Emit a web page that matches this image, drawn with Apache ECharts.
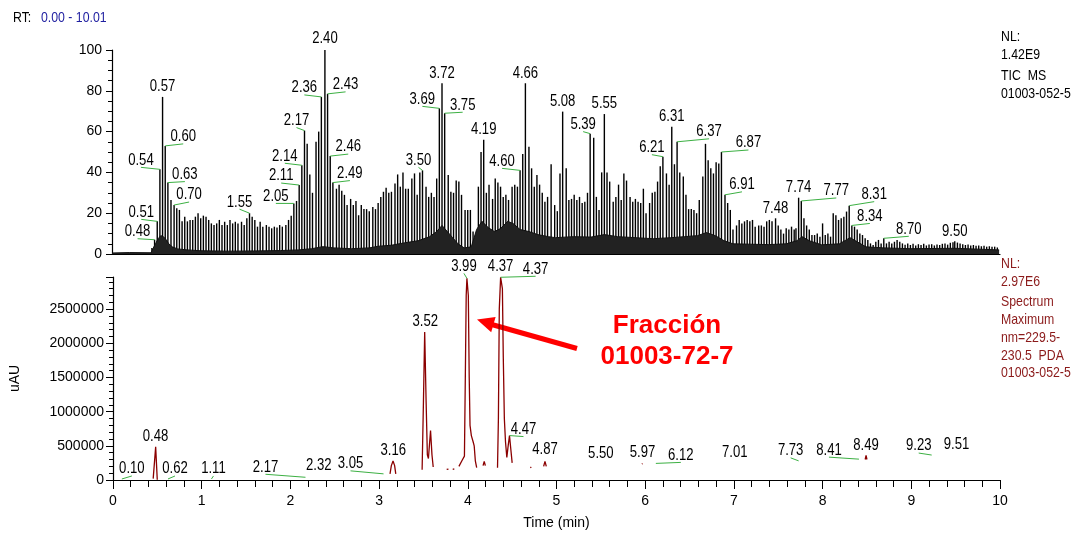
<!DOCTYPE html>
<html>
<head>
<meta charset="utf-8">
<script src="https://cdn.jsdelivr.net/npm/echarts@6/dist/echarts.min.js"></script>
<style>
  html, body { margin: 0; padding: 0; background: #fff; }
  #chart { width: 1075px; height: 535px; }
</style>
</head>
<body>
<div id="chart"></div>
<script>
// TIC MS trace: one [time (min), relative abundance %] pair per scan
const ticScans = [
  [0.45,3],[0.48,7],[0.51,16],[0.54,41.5],[0.57,77],[0.60,53],[0.63,35],[0.665,26.5],[0.70,24],
  [0.73,22.4],[0.76,21.6],[0.79,16],[0.82,18.3],[0.85,16],[0.88,16.7],[0.91,16.7],[0.94,18.3],[0.97,20],
  [1.00,17.5],[1.03,18.8],[1.06,18.3],[1.09,16.7],[1.12,15],[1.15,14.2],[1.18,15],[1.21,16.7],[1.24,14.2],
  [1.27,15.8],[1.30,14.2],[1.33,16.7],[1.36,15],[1.39,15.8],[1.42,15],[1.46,15.8],[1.49,14.2],[1.52,17.5],
  [1.55,20],[1.58,18.3],[1.61,16.7],[1.64,13.4],[1.67,15.8],[1.70,13.4],[1.74,14.2],[1.77,13.4],[1.80,12.6],
  [1.83,13.4],[1.86,13],[1.89,14.2],[1.92,13.4],[1.96,14.2],[1.99,16.7],[2.02,18.8],[2.05,24.8],
  [2.08,26],[2.11,33.8],[2.14,43.5],[2.17,60.5],[2.20,54],[2.23,39],[2.26,30],[2.30,55],[2.33,60],
  [2.36,77],[2.40,100],[2.43,78.5],[2.46,48],[2.49,35],
  [2.53,32],[2.56,34],[2.59,31],[2.62,29],[2.65,24],[2.69,27],[2.72,24],[2.75,26],[2.78,19],[2.81,24],
  [2.84,22],[2.87,22],[2.90,21],[2.94,23],[2.97,22],[3.00,25],[3.03,28],[3.06,30.5],[3.09,32.5],[3.12,30],
  [3.15,30.5],[3.19,34.6],[3.22,39],[3.25,33],[3.28,40],[3.31,32],[3.34,32],[3.38,37],[3.41,39.5],[3.44,29],
  [3.47,40],[3.50,41],[3.54,33],[3.57,28],[3.60,30],[3.63,28],[3.66,37],[3.69,71.4],[3.72,83.7],[3.75,69],
  [3.79,38.7],[3.82,30.5],[3.85,30],[3.88,36],[3.91,35.5],[3.94,29],[3.98,21.6],[4.01,21.6],[4.04,21.6],
  [4.07,11],[4.10,4],[4.13,33],[4.16,50],[4.19,56],[4.22,30],[4.25,34],[4.29,27],[4.32,37],[4.35,35],
  [4.38,33],[4.41,28],[4.44,29],[4.47,26.5],[4.51,33],[4.54,34],[4.57,33],[4.60,41],[4.63,49],[4.66,83.7],
  [4.70,52.6],[4.73,42],[4.76,33],[4.79,38.7],[4.82,34],[4.85,30],[4.88,25.6],[4.91,28],[4.95,44],
  [4.99,24],[5.02,21],[5.05,39.5],[5.08,69.8],[5.12,42],[5.15,26.5],[5.18,27],[5.21,29],[5.24,26.5],
  [5.27,28],[5.30,25],[5.33,25.6],[5.36,30],[5.39,59],[5.43,57],[5.46,28],[5.49,21.6],[5.52,40],[5.55,68.6],
  [5.58,40],[5.61,35.5],[5.65,25.6],[5.68,28],[5.71,34],[5.74,26.5],[5.77,39.5],[5.80,36],[5.84,28],
  [5.87,25.6],[5.90,27],[5.93,25.6],[5.96,25],[5.99,32],[6.02,20],[6.06,25],[6.09,30],[6.12,30.5],
  [6.15,35.5],[6.18,43],[6.21,47.7],[6.25,39.5],[6.28,34],[6.31,62.4],[6.34,44],[6.37,55],[6.40,40],
  [6.44,38],[6.47,29],[6.50,22],[6.53,22],[6.56,21.6],[6.59,20],[6.62,26.5],[6.66,38],[6.69,54],[6.72,46],
  [6.75,42],[6.78,39.5],[6.81,45],[6.84,44.4],[6.87,50],[6.91,29],[6.94,25],[6.97,21.6],[7.00,12],
  [7.04,14],[7.07,16.7],[7.10,15],[7.13,16],[7.16,16.7],[7.19,16],[7.22,16.7],[7.25,13.4],[7.29,14],
  [7.32,14],[7.35,13.4],[7.38,16],[7.41,16.7],[7.44,16],
  [7.48,17.5],[7.51,14],[7.54,12],[7.57,10],[7.60,12.6],[7.63,12],[7.66,13.4],[7.69,12],[7.71,12.6],
  [7.74,27.6],[7.77,26],[7.80,17.5],[7.83,14],[7.86,12],[7.89,9.3],[7.92,9.3],[7.95,10],[7.98,8.5],
  [8.01,15],[8.04,9.3],[8.07,10],[8.10,8.5],[8.13,20],[8.16,19],[8.19,16.7],[8.22,17.5],[8.25,18.3],
  [8.28,20.8],[8.31,23.7],[8.34,14],[8.37,13.4],[8.40,12],[8.43,10],[8.46,9.3],[8.49,7.7],[8.52,6.9],
  [8.55,5.2],[8.58,4.4],[8.61,6],[8.64,6.9],[8.67,5.2],[8.70,7.7],[8.73,5.2],[8.76,6],[8.79,5.2],[8.82,6],
  [8.85,6.9],[8.88,6],[8.91,5.2],
  [8.94,4.5],[8.97,5.2],[9.00,4.4],[9.03,5],[9.06,4.2],[9.09,4.8],[9.12,4.4],[9.15,5],[9.18,4.2],[9.21,4.6],
  [9.24,4.8],[9.27,4.2],[9.30,4.6],[9.33,4.4],[9.36,5],[9.39,5.2],[9.42,4.6],[9.45,5.5],[9.48,5.8],[9.50,6.2],
  [9.53,5.6],[9.56,5.2],[9.59,4.8],[9.62,4.4],[9.65,4.6],[9.68,4.2],[9.71,4.4],[9.74,4],[9.77,4.2],[9.80,3.8],
  [9.83,4],[9.86,3.6],[9.89,3.8],[9.92,3.5],[9.95,3.6],[9.98,3.2]
];

// dense low-level part of the TIC (dark band under the scan sticks)
const ticFloor = [
  [0,0.5],[0.2,0.7],[0.44,0.6],[0.46,2.5],[0.49,5],[0.52,7.5],[0.55,9],[0.58,8.5],[0.61,7],[0.64,5],
  [0.68,3.5],[0.74,2.5],[0.85,2],[1.0,1.6],[1.3,1.4],[1.6,1.5],[1.9,1.7],[2.1,2],[2.25,2.6],[2.38,3.6],
  [2.5,3],[2.7,2.6],[2.9,3],[3.0,3.8],[3.15,4.3],[3.3,5.5],[3.45,6.5],[3.58,8.5],[3.66,11],[3.72,14],
  [3.78,11],[3.84,8],[3.9,5],[3.97,3],[4.05,3.5],[4.11,12],[4.17,16],[4.24,13],[4.31,11],[4.38,12.5],
  [4.46,16],[4.52,15],[4.6,12],[4.7,11],[4.8,9.5],[4.92,8.5],[5.0,8],[5.2,8.5],[5.4,8.3],[5.55,9.5],
  [5.7,8.5],[5.9,8],[6.1,7.5],[6.3,8],[6.45,8.5],[6.6,9],[6.7,10.5],[6.8,9],[6.9,6.5],[7.0,5],[7.2,4.8],
  [7.4,4.6],[7.6,5],[7.72,6.5],[7.78,8.5],[7.86,6.5],[8.0,4.5],[8.2,5],[8.32,8],[8.4,6],[8.5,3.5],
  [8.7,3],[9.0,2.6],[9.5,2.8],[10.0,2]
];

// retention times annotated on the TIC
const ticLabels = ['0.48','0.51','0.54','0.57','0.60','0.63','0.70','1.55','2.05','2.11','2.14','2.17',
  '2.36','2.40','2.43','2.46','2.49','3.50','3.69','3.72','3.75','4.19','4.60','4.66','5.08','5.39','5.55',
  '6.21','6.31','6.37','6.87','6.91','7.48','7.74','7.77','8.31','8.34','8.70','9.50'];
// label offset from its peak apex, in px (a sideways offset gets a leader line)
const ticLabelShift = [[-17,-8],[-16,-9],[-19,-9],[0,-10],[18,-9],[17,-8],[15,-10],[-10,-11],[-18,-7],
  [-18,-9],[-17,-9],[-8,-10],[-17,-9],[0,-11],[18,-9],[18,-9],[17,-9],[-4,-10],[-17,-9],[0,-10],[18,-8],
  [0,-10],[-18,-9],[0,-10],[0,-10],[-7,-9],[0,-10],[-11,-9],[0,-10],[32,-10],[27,-9],[17,-10],[0,-10],
  [0,-10],[35,-10],[25,-11],[18,-9],[25,-9],[0,-10]];

// PDA (229.5-230.5 nm) trace segments, [time (min), uAU]; null breaks the line
const pdaTrace = [
  [0.453,20000],[0.481,485000],[0.499,5000],[0.52,null],
  [3.123,90000],[3.138,210000],[3.157,277000],[3.175,210000],[3.188,90000],[3.20,null],
  [3.485,150000],[3.50,1150000],[3.514,2165000],[3.53,1150000],[3.544,370000],[3.556,315000],
  [3.58,725000],[3.596,370000],[3.61,190000],[3.62,null],
  [3.762,155000],[3.782,160000],[3.79,null],[3.83,155000],[3.848,162000],[3.86,null],
  [3.90,200000],[3.935,285000],[3.962,350000],[3.972,1500000],[3.982,2700000],[3.99,2950000],
  [3.998,2940000],[4.006,2700000],[4.016,1500000],[4.025,800000],[4.04,650000],[4.06,560000],
  [4.072,500000],[4.085,280000],[4.10,180000],[4.11,null],
  [4.172,210000],[4.185,270000],[4.198,210000],[4.21,null],
  [4.335,180000],[4.345,900000],[4.355,2500000],[4.37,2966000],[4.38,2966000],[4.39,2800000],
  [4.40,1800000],[4.412,900000],[4.425,560000],[4.44,330000],[4.455,500000],[4.47,650000],
  [4.485,450000],[4.50,250000],[4.51,null],
  [4.705,180000],[4.716,190000],[4.73,null],
  [4.855,200000],[4.87,272000],[4.885,200000],[4.90,null],
  [5.962,235000],[5.97,240000],[5.98,null],
  [8.48,300000],[8.49,360000],[8.50,300000]
];

// annotated PDA peaks: [time (min), apex uAU]
const pdaPeaks = [[0.10,15000],[0.48,485000],[0.62,15000],[1.11,15000],[2.17,40000],[2.32,70000],
  [3.05,90000],[3.16,277000],[3.52,2165000],[3.99,2950000],[4.37,2966000],[4.37,2966000],[4.47,650000],
  [4.87,272000],[5.50,247000],[5.97,240000],[6.12,243000],[7.01,250000],[7.73,280000],[8.41,305000],
  [8.49,360000],[9.23,365000],[9.51,365000]];
const pdaLabelShift = [[10,-10],[0,-10],[7,-10],[2,-10],[-40,-10],[0,-10],[-33,-10],[0,-10],[0,-10],
  [-3,-12],[0,-11],[35,-8],[14,-6],[0,-12],[0,-10],[0,-11],[25,-8],[0,-10],[-8,-10],[-30,-9],[0,-10],
  [-13,-9],[0,-10]];

const ticInfo = ['NL:', '1.42E9', 'TIC  MS', '01003-052-5'];
const pdaInfo = ['NL:', '2.97E6', 'Spectrum', 'Maximum', 'nm=229.5-', '230.5  PDA', '01003-052-5'];

const SANS = '"Liberation Sans", Arial, sans-serif';
const NARROW_X = 0.82;          // horizontal squeeze giving the narrow instrument font look
const LEADER = '#3cb043';
const PDA_RED = '#8b0000';

function peakLabels(axisIdx, points, texts, shifts, color) {
  return {
    type: 'custom',
    xAxisIndex: axisIdx, yAxisIndex: axisIdx,
    data: points.map((p, i) => [p[0], p[1], i]),
    clip: false, silent: true, z: 20,
    renderItem(params, api) {
      const i = api.value(2);
      const pt = api.coord([api.value(0), api.value(1)]);
      const [dx, dy] = shifts[i];
      const cx = pt[0] + dx, cy = pt[1] + dy;
      const children = [];
      if (Math.abs(dx) >= 2) {
        children.push({ type: 'line', shape: { x1: pt[0], y1: pt[1], x2: cx, y2: cy + 7 },
          style: { stroke: LEADER, lineWidth: 1 } });
      }
      children.push({ type: 'text', x: cx, y: cy, scaleX: NARROW_X,
        style: { text: texts[i], align: 'center', verticalAlign: 'middle',
          font: '16px ' + SANS, fill: color } });
      return { type: 'group', children };
    }
  };
}

const narrowText = (x, y, text, size, color) => ({
  type: 'text', x, y, scaleX: NARROW_X,
  style: { text, font: size + 'px ' + SANS, fill: color, verticalAlign: 'middle' }
});
const sideText = (lines, ys, color) => lines.map((t, i) => narrowText(1001, ys[i], t, 15, color));

const chart = echarts.init(document.getElementById('chart'), null, { renderer: 'canvas' });

const tickFont = { color: '#000', fontSize: 14, fontFamily: SANS };
const axisCommon = {
  axisLine: { show: true, lineStyle: { color: '#000', width: 1.2 } },
  splitLine: { show: false }
};

chart.setOption({
  animation: false,
  backgroundColor: '#fff',
  grid: [
    { left: 112, top: 50, width: 888, height: 204 },
    { left: 112, top: 277, width: 888, height: 203 }
  ],
  xAxis: [
    Object.assign({}, axisCommon, { type: 'value', gridIndex: 0, min: 0, max: 10.01,
      axisTick: { show: false }, axisLabel: { show: false } }),
    Object.assign({}, axisCommon, { type: 'value', gridIndex: 1, min: 0, max: 10, interval: 1,
      axisTick: { show: true, length: 9, lineStyle: { color: '#000' } },
      minorTick: { show: true, splitNumber: 5, length: 7, lineStyle: { color: '#000' } },
      axisLabel: Object.assign({ margin: 14 }, tickFont),
      name: 'Time (min)', nameLocation: 'middle', nameGap: 36,
      nameTextStyle: tickFont })
  ],
  yAxis: [
    Object.assign({}, axisCommon, { type: 'value', gridIndex: 0, min: 0, max: 100, interval: 20,
      axisTick: { show: true, length: 6, lineStyle: { color: '#000' } },
      minorTick: { show: true, splitNumber: 4, length: 4, lineStyle: { color: '#000' } },
      axisLabel: Object.assign({ margin: 10 }, tickFont) }),
    Object.assign({}, axisCommon, { type: 'value', gridIndex: 1, min: 0, max: 2970000, interval: 500000,
      axisTick: { show: true, length: 7, lineStyle: { color: '#000' } },
      minorTick: { show: true, splitNumber: 5, length: 4, lineStyle: { color: '#000' } },
      axisLabel: Object.assign({ margin: 9, showMaxLabel: false, formatter: v => String(v) }, tickFont),
      name: 'uAU', nameLocation: 'middle', nameGap: 91,
      nameTextStyle: tickFont })
  ],
  series: [
    { type: 'bar', xAxisIndex: 0, yAxisIndex: 0, data: ticScans, barWidth: 1.4,
      itemStyle: { color: '#000' }, silent: true, z: 2 },
    { type: 'line', xAxisIndex: 0, yAxisIndex: 0, data: ticFloor, symbol: 'none', silent: true,
      lineStyle: { color: '#111', width: 1 }, areaStyle: { color: '#222', opacity: 1 }, z: 3 },
    peakLabels(0, ticLabels.map(l => ticScans.find(s => s[0] === parseFloat(l))), ticLabels, ticLabelShift, '#000'),
    { type: 'line', xAxisIndex: 1, yAxisIndex: 1, data: pdaTrace, symbol: 'none', connectNulls: false,
      silent: true, lineStyle: { color: PDA_RED, width: 1.3 }, z: 3 },
    peakLabels(1, pdaPeaks, pdaPeaks.map(p => p[0].toFixed(2)), pdaLabelShift, '#000')
  ],
  graphic: [
    narrowText(13, 18, 'RT:', 15, '#000'),
    narrowText(41, 18, '0.00 - 10.01', 15, '#1f1fa0'),
    ...sideText(ticInfo, [37, 55, 76, 94], '#000'),
    ...sideText(pdaInfo, [264, 282, 302, 320, 338, 356, 373], '#8b1a1a'),
    { type: 'text', x: 667, y: 326, style: { text: 'Fracción', font: 'bold 26px ' + SANS,
      fill: '#ff0000', align: 'center', verticalAlign: 'middle' } },
    { type: 'text', x: 667, y: 357, style: { text: '01003-72-7', font: 'bold 26px ' + SANS,
      fill: '#ff0000', align: 'center', verticalAlign: 'middle' } },
    { type: 'line', shape: { x1: 577, y1: 348.5, x2: 490, y2: 324 }, style: { stroke: '#ff0000', lineWidth: 5 } },
    { type: 'polygon', shape: { points: [[477, 319.5], [495.6, 316.9], [491.2, 332.3]] }, style: { fill: '#ff0000' } }
  ]
});
</script>
</body>
</html>
